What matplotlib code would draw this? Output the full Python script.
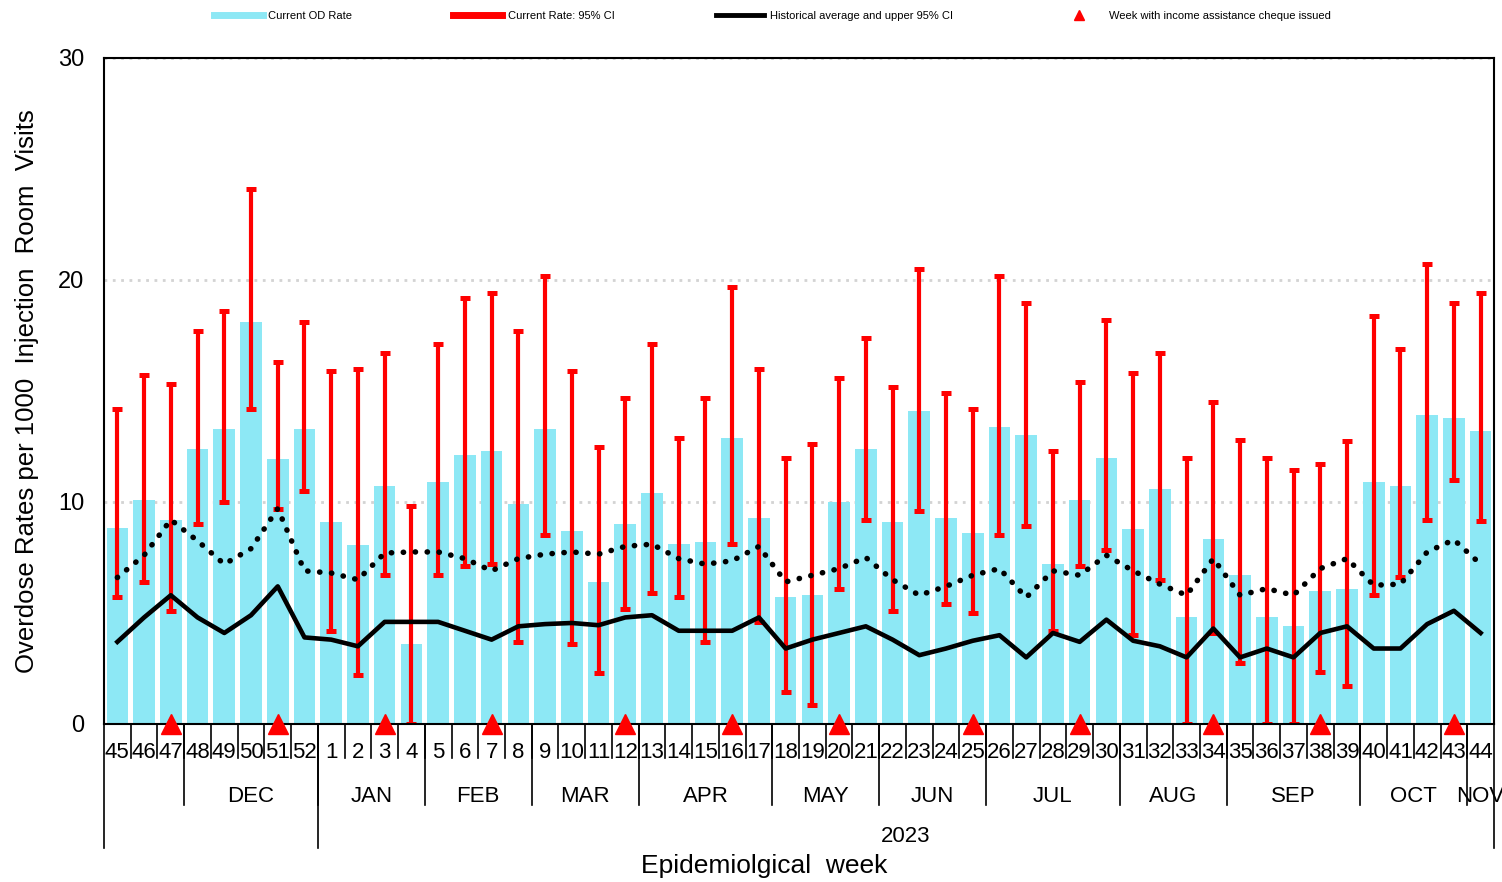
import matplotlib
matplotlib.use('Agg')
import matplotlib.pyplot as plt
import matplotlib.transforms as mtransforms
from matplotlib.lines import Line2D
import numpy as np

plt.rcParams['font.family'] = ['Liberation Sans', 'DejaVu Sans']

# epi weeks (Nov 2022 -> Nov 2023)
weeks = [45, 46, 47, 48, 49, 50, 51, 52] + list(range(1, 45))

od_rate = [8.85, 10.1, 9.2, 12.4, 13.3, 18.1, 11.95, 13.3,
           9.1, 8.05, 10.7, 3.6, 10.9, 12.1, 12.3, 9.9, 13.3, 8.7,
           6.4, 9.0, 10.4, 8.1, 8.2, 12.9, 9.3, 5.7, 5.8, 10.0,
           12.4, 9.1, 14.1, 9.3, 8.6, 13.4, 13.0, 7.2, 10.1, 12.0,
           8.8, 10.6, 4.8, 8.35, 6.7, 4.8, 4.4, 6.0, 6.1, 10.9,
           10.7, 13.9, 13.8, 13.2]
ci_upper = [14.2, 15.7, 15.3, 17.7, 18.6, 24.1, 16.3, 18.1,
            15.9, 16.0, 16.7, 9.8, 17.1, 19.2, 19.4, 17.7, 20.2, 15.9,
            12.5, 14.7, 17.1, 12.9, 14.7, 19.7, 16.0, 12.0, 12.6, 15.6,
            17.4, 15.2, 20.5, 14.9, 14.2, 20.2, 18.95, 12.3, 15.4, 18.2,
            15.8, 16.7, 12.0, 14.5, 12.8, 12.0, 11.45, 11.7, 12.75, 18.4,
            16.9, 20.7, 18.95, 19.4]
ci_lower = [5.7, 6.4, 5.1, 9.0, 10.0, 14.2, 9.7, 10.5,
            4.2, 2.2, 6.7, 0.0, 6.7, 7.1, 7.2, 3.7, 8.5, 3.6,
            2.3, 5.2, 5.9, 5.7, 3.7, 8.1, 4.6, 1.45, 0.87, 6.1,
            9.2, 5.1, 9.6, 5.4, 5.0, 8.5, 8.9, 4.2, 7.1, 7.85,
            4.0, 6.5, 0.0, 4.1, 2.75, 0.0, 0.0, 2.35, 1.7, 5.8,
            6.6, 9.2, 11.0, 9.15]
hist_avg = [3.7, 4.8, 5.8, 4.8, 4.1, 4.9, 6.2, 3.9,
            3.8, 3.5, 4.6, 4.6, 4.6, 4.2, 3.8, 4.4, 4.5, 4.55,
            4.45, 4.8, 4.9, 4.2, 4.2, 4.2, 4.8, 3.4, 3.8, 4.1,
            4.4, 3.8, 3.1, 3.4, 3.75, 4.0, 3.0, 4.1, 3.7, 4.7,
            3.75, 3.5, 3.0, 4.3, 3.0, 3.4, 3.0, 4.1, 4.4, 3.4,
            3.4, 4.5, 5.1, 4.1]
hist_upper = [6.6, 7.6, 9.2, 8.25, 7.2, 7.9, 9.7, 6.9,
              6.8, 6.5, 7.7, 7.75, 7.75, 7.45, 6.9, 7.45, 7.65, 7.75,
              7.65, 8.0, 8.1, 7.45, 7.2, 7.35, 8.0, 6.4, 6.7, 7.0,
              7.5, 6.5, 5.8, 6.2, 6.7, 7.0, 5.7, 6.9, 6.7, 7.6,
              6.9, 6.3, 5.8, 7.45, 5.8, 6.1, 5.8, 7.0, 7.45, 6.25,
              6.3, 7.75, 8.3, 7.2]
cheque_weeks = [47, 51, 3, 7, 12, 16, 20, 25, 29, 34, 38, 43]

month_labels = ['', 'DEC', 'JAN', 'FEB', 'MAR', 'APR', 'MAY', 'JUN',
                'JUL', 'AUG', 'SEP', 'OCT', 'NOV']
month_sizes = [3, 5, 4, 4, 4, 5, 4, 4, 5, 4, 5, 4, 1]
year_labels = ['', '2023']
year_sizes = [8, 44]

bar_col = '#8DE8F5'
x = np.arange(len(weeks))
od = np.array(od_rate)
yerr = [od - np.array(ci_lower), np.array(ci_upper) - od]

fig = plt.figure(figsize=(15.02, 8.82), dpi=100)
ax = fig.add_axes([104 / 1502, 1 - 724 / 882, 1390 / 1502, 666 / 882])

ax.bar(x, od, width=0.81, color=bar_col, zorder=2)
ax.errorbar(x, od, yerr=yerr, fmt='none', ecolor='#FF0000', elinewidth=3,
            capsize=3.8, capthick=3.6, zorder=3)
ax.plot(x, hist_avg, color='black', lw=3.3, zorder=4)
ax.plot(x, hist_upper, color='black', lw=4, ls=(0, (0.05, 2.1)),
        dash_capstyle='round', zorder=4)
cx = [weeks.index(w) for w in cheque_weeks]
ax.plot(cx, [0] * len(cx), ls='none', marker='^', ms=15, color='#FF0000',
        clip_on=False, zorder=6)

ax.set_xlim(-0.5, len(weeks) - 0.5)
ax.set_ylim(0, 30)
ax.set_yticks([0, 10, 20, 30])
ax.tick_params(axis='y', length=0, labelsize=17, pad=14)
ax.set_xticks([])
for yv in [10, 20, 30]:
    ax.axhline(yv, color='#D3D3D3', lw=2, ls=(0, (1, 2)), zorder=1)
for s in ax.spines.values():
    s.set_linewidth(1.5)
    s.set_zorder(5)

ax.set_ylabel('Overdose Rates per 1000  Injection  Room  Visits', fontsize=18.5, labelpad=14)

# category table under the axis
tr = mtransforms.blended_transform_factory(ax.transData, ax.transAxes)
def px(p):
    return -p / 666.0

for i, w in enumerate(weeks):
    ax.text(i, px(29), str(w), transform=tr, ha='center', va='center', fontsize=16)
    if i > 0:
        ax.plot([i - 0.5, i - 0.5], [0, px(34)], transform=tr, color='black',
                lw=1.2, clip_on=False)

pos = 0
for lab, n in zip(month_labels, month_sizes):
    ax.text(pos + n / 2 - 0.5, px(72), lab, transform=tr, ha='center', va='center', fontsize=16)
    if pos > 0:
        ax.plot([pos - 0.5, pos - 0.5], [0, px(81)], transform=tr, color='black',
                lw=1.2, clip_on=False)
    pos += n

pos = 0
for lab, n in zip(year_labels, year_sizes):
    ax.text(pos + n / 2 - 0.5, px(113), lab, transform=tr, ha='center', va='center', fontsize=16)
    ax.plot([pos - 0.5, pos - 0.5], [0, px(124)], transform=tr, color='black',
            lw=1.2, clip_on=False)
    pos += n
ax.plot([pos - 0.5, pos - 0.5], [0, px(124)], transform=tr, color='black',
        lw=1.2, clip_on=False)

fig.text(764 / 1502, 1 - 866 / 882, 'Epidemiolgical  week', ha='center', va='center', fontsize=19)

handles = [Line2D([], [], color=bar_col, lw=5),
           Line2D([], [], color='#FF0000', lw=5),
           Line2D([], [], color='black', lw=3.5),
           Line2D([], [], color='#FF0000', ls='none', marker='^', ms=7)]
labels = ['Current OD Rate', 'Current Rate: 95% CI',
          'Historical average and upper 95% CI',
          'Week with income assistance cheque issued']
fig.legend(handles, labels, loc='upper center', bbox_to_anchor=(0.514, 0.999),
           ncol=4, frameon=False, fontsize=8, handlelength=4.4,
           columnspacing=9.1, handletextpad=0.5)

fig.savefig('out.png', dpi=100)
